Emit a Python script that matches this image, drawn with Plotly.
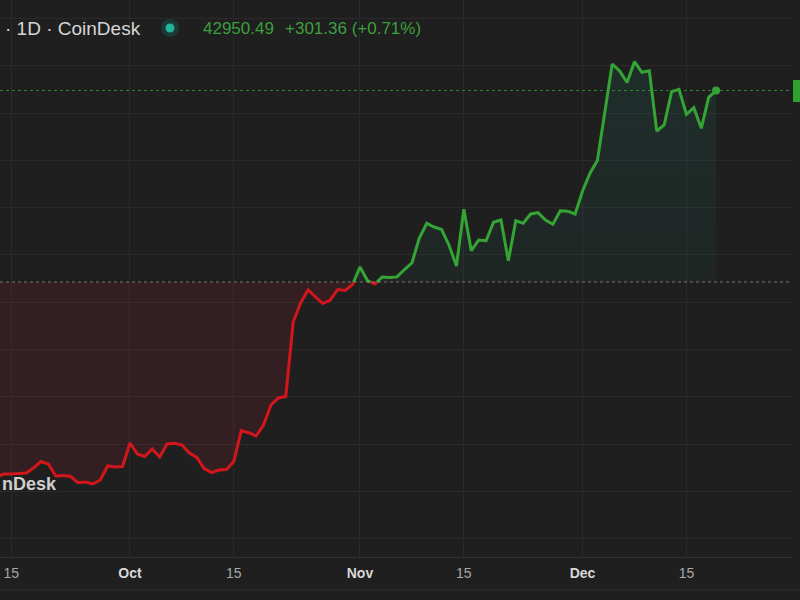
import pandas as pd
import plotly.graph_objects as go

# ---- data ----
start_date = "2023-09-13"
end_date = "2023-12-19"
prices = [
    # Sep 13 - Sep 30
    26610, 26737, 26737, 26758, 26779, 26991, 27265, 27160, 26652, 26673,
    26631, 26369, 26399, 26314, 26483, 27075, 27033, 27054,
    # Oct 1 - Oct 31
    28048, 27583, 27477, 27794, 27456, 28005, 28035, 27963, 27625, 27435,
    26969, 26792, 26906, 26927, 27265, 28568, 28483, 28344, 28809, 29654,
    29950, 30014, 33163, 33967, 34516, 34220, 33946, 34094, 34538, 34500,
    34749,
    # Nov 1 - Nov 30
    35489, 34918, 34770, 35066, 35050, 35070, 35383, 35658, 36715, 37337,
    37180, 37074, 36419, 35531, 37928, 36178, 36630, 36600, 37379, 37476,
    35755, 37446, 37337, 37730, 37785, 37476, 37294, 37869, 37850, 37730,
    # Dec 1 - Dec 19
    38702, 39451, 39992, 42042, 44072, 43776, 43290, 44169, 43721, 43788,
    41239, 41493, 42901, 43002, 41945, 42224, 41353, 42664, 42950.49,
]
baseline_value = 34855
last_price_text = "42950.49"
change_text = "+301.36 (+0.71%)"
header_text = "· 1D · CoinDesk"
watermark_text = "nDesk"
tick_dates = ["2023-09-15", "2023-10-01", "2023-10-15", "2023-11-01",
              "2023-11-15", "2023-12-01", "2023-12-15"]
tick_labels = ["15", "Oct", "15", "Nov", "15", "Dec", "15"]
y_grid_step = 2000

# ---- derived series ----
dates = pd.date_range(start_date, end_date, freq="D")
t = (dates.astype("int64") // 10**6).tolist()
xs, ys = [], []
for i in range(len(prices)):
    if i > 0 and (prices[i - 1] - baseline_value) * (prices[i] - baseline_value) < 0:
        f = (baseline_value - prices[i - 1]) / (prices[i] - prices[i - 1])
        xs.append(t[i - 1] + f * (t[i] - t[i - 1]))
        ys.append(baseline_value)
    xs.append(t[i])
    ys.append(prices[i])
xd = pd.to_datetime(xs, unit="ms")

upper = [max(v, baseline_value) for v in ys]
lower = [min(v, baseline_value) for v in ys]
green_line = [v if v >= baseline_value else None for v in ys]
red_line = [v if v <= baseline_value else None for v in ys]
base_arr = [baseline_value] * len(ys)

BG = "#1f1f1f"
GRID = "#2a2a2a"
GREEN = "#34a534"
RED = "#d3161b"

fig = go.Figure()
fig.add_trace(go.Scatter(x=xd, y=base_arr, mode="lines", line=dict(width=0), hoverinfo="skip"))
fig.add_trace(go.Scatter(x=xd, y=upper, mode="lines", line=dict(width=0), fill="tonexty",
                         fillgradient=dict(type="vertical",
                                           colorscale=[[0, "rgba(30,170,140,0.05)"], [1, "rgba(30,170,140,0.11)"]]),
                         hoverinfo="skip"))
fig.add_trace(go.Scatter(x=xd, y=base_arr, mode="lines", line=dict(width=0), hoverinfo="skip"))
fig.add_trace(go.Scatter(x=xd, y=lower, mode="lines", line=dict(width=0), fill="tonexty",
                         fillcolor="rgba(215,40,55,0.11)", hoverinfo="skip"))
fig.add_trace(go.Scatter(x=xd, y=red_line, mode="lines", line=dict(color=RED, width=3),
                         connectgaps=False))
fig.add_trace(go.Scatter(x=xd, y=green_line, mode="lines", line=dict(color=GREEN, width=3),
                         connectgaps=False))
fig.add_trace(go.Scatter(x=[dates[-1]], y=[prices[-1]], mode="markers",
                         marker=dict(color=GREEN, size=8)))

W, H = 792, 557  # plot area in px


def px(x):
    return x / W


def py(y):
    return 1 - y / H


x0 = pd.Timestamp("2023-10-01") - pd.Timedelta(days=17.52)
x1 = pd.Timestamp("2023-10-01") + pd.Timedelta(days=89.23)

ticktext = []
for lab in tick_labels:
    if lab.isdigit():
        ticktext.append(f"<span style='color:#a8a8a8'>{lab}</span>")
    else:
        ticktext.append(f"<b>{lab}</b>")

fig.update_layout(
    width=800, height=600,
    margin=dict(l=0, r=8, t=0, b=43),
    paper_bgcolor=BG, plot_bgcolor=BG,
    showlegend=False,
    font=dict(family="Liberation Sans, Arial, sans-serif", color="#d8d8d8"),
    xaxis=dict(type="date", range=[x0, x1], tickvals=pd.to_datetime(tick_dates), ticktext=ticktext,
               showgrid=True, gridcolor=GRID, gridwidth=1, zeroline=False,
               showline=True, linecolor="#303030", linewidth=1, ticks="",
               tickfont=dict(size=14, color="#d8d8d8"), ticklabelstandoff=3),
    yaxis=dict(range=[23227, 46778], dtick=y_grid_step, tick0=0, showgrid=True, gridcolor=GRID,
               zeroline=False, showticklabels=False, ticks=""),
    shapes=[
        dict(type="line", xref="paper", yref="y", x0=0, x1=1, y0=baseline_value, y1=baseline_value,
             line=dict(color="rgba(190,190,190,0.55)", width=1, dash="dot")),
        dict(type="line", xref="paper", yref="y", x0=0, x1=1, y0=prices[-1], y1=prices[-1],
             line=dict(color="rgba(52,165,52,0.75)", width=1, dash="dot")),
        dict(type="rect", xref="paper", yref="paper", x0=px(793), x1=px(805), y0=py(102), y1=py(80),
             fillcolor="#2ea12e", line=dict(width=0)),
        dict(type="line", xref="paper", yref="paper", x0=0, x1=px(800), y0=py(590), y1=py(590),
             line=dict(color="#303030", width=1)),
        dict(type="circle", xref="paper", yref="paper", x0=px(161), x1=px(179), y0=py(37), y1=py(19),
             fillcolor="#1c3a35", line=dict(width=0)),
        dict(type="circle", xref="paper", yref="paper", x0=px(165.5), x1=px(174.5), y0=py(32.5), y1=py(23.5),
             fillcolor="#22b39a", line=dict(width=0)),
    ],
    annotations=[
        dict(text=header_text, xref="paper", yref="paper", x=px(3), y=py(28), xanchor="left",
             yanchor="middle", showarrow=False, font=dict(size=19, color="#d6d6d6")),
        dict(text=last_price_text, xref="paper", yref="paper", x=px(201), y=py(29), xanchor="left",
             yanchor="middle", showarrow=False, font=dict(size=17, color="#3d9e3d")),
        dict(text=change_text, xref="paper", yref="paper", x=px(283), y=py(29), xanchor="left",
             yanchor="middle", showarrow=False, font=dict(size=17, color="#3d9e3d")),
        dict(text=f"<b>{watermark_text}</b>", xref="paper", yref="paper", x=px(0), y=py(484),
             xanchor="left", yanchor="middle", showarrow=False, font=dict(size=18, color="#cfcfcf")),
    ],
)

fig.write_html("out.html", config={"displayModeBar": False},
               post_script="document.body.style.margin='0';document.body.style.background='#1f1f1f';")
